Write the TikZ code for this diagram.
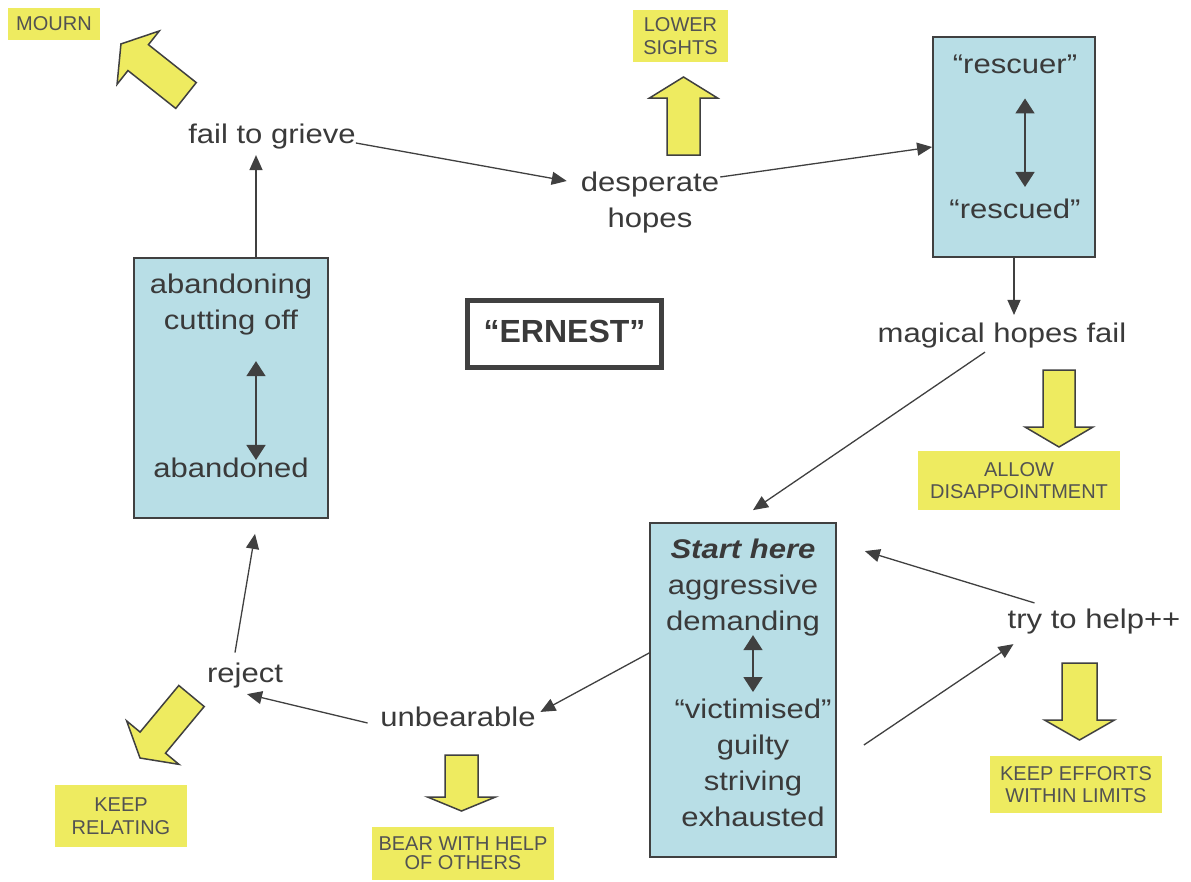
\documentclass[tikz,border=0pt]{standalone}
\usepackage{fontspec}
\setmainfont{Liberation Sans}
\newfontfamily\mainstretch{Liberation Sans}[FakeStretch=1.15]
\usetikzlibrary{arrows.meta,calc}
\definecolor{boxblue}{RGB}{184,222,230}
\definecolor{ylw}{RGB}{238,235,96}
\definecolor{txt}{RGB}{58,58,58}
\definecolor{lbltxt}{RGB}{82,82,82}
\definecolor{edge}{RGB}{64,64,64}
\tikzset{
  txtnode/.style={inner sep=0pt, text=txt, font=\mainstretch\fontsize{27}{36}\selectfont, align=center},
  bluebox/.style={draw=edge, line width=1.8pt, fill=boxblue, inner sep=0pt},
  ylabel/.style={fill=ylw, inner sep=0pt, text=lbltxt, font=\fontsize{20}{22.5}\selectfont, align=center},
  conn/.style={draw=edge, line width=1.3pt, -{Triangle[length=15pt,width=13pt]}},
  dbl/.style={draw=edge, line width=1.8pt, {Triangle[length=15pt,width=19pt]}-{Triangle[length=15pt,width=19pt]}},
  yarrow/.style={fill=ylw, draw=edge, line width=1.5pt, line join=miter},
}
\newcommand\blockarrow[6]{%
  \begin{scope}[shift={#1},rotate=#2]
    \draw[yarrow] (0,-#5) -- ({#3-#4},-#5) -- ({#3-#4},-#6) -- (#3,0) -- ({#3-#4},#6) -- ({#3-#4},#5) -- (0,#5) -- cycle;
  \end{scope}}
\begin{document}
\begin{tikzpicture}[x=1pt,y=-1pt]
\clip (0,0) rectangle (1191,881);
\fill[white] (0,0) rectangle (1191,881);

% blue boxes
\node[bluebox, minimum width=194pt, minimum height=260pt] (leftbox) at (231,388) {};
\node[bluebox, minimum width=162pt, minimum height=220pt] (rbox) at (1014,147) {};
\node[bluebox, minimum width=186pt, minimum height=334pt] (sbox) at (743,690) {};
\node[draw=edge, line width=5pt, minimum width=194pt, minimum height=67pt, inner sep=0pt,
      text height=23pt, text depth=7pt, text=txt, font=\bfseries\fontsize{32}{36}\selectfont] (ernest) at (564.5,334) {“ERNEST”};

% texts
\node[txtnode, anchor=base] (fail) at (272,143) {fail to grieve};
\node[txtnode, anchor=north] (desp) at (650,171.3) {desperate\\hopes};
\node[txtnode, anchor=base] (rescuer) at (1015,73) {“rescuer”};
\node[txtnode, anchor=base] (rescued) at (1015,218) {“rescued”};
\node[txtnode, anchor=base] (magic) at (1002,342) {magical hopes fail};
\node[txtnode, anchor=north] (aband) at (231,273.3) {abandoning\\cutting off};
\node[txtnode, anchor=base] (abandoned) at (231,477) {abandoned};
\node[txtnode, anchor=north] (starttop) at (743,538.3) {\textbf{\textit{Start here}}\\aggressive\\demanding};
\node[txtnode, anchor=north] (victim) at (753,698.3) {“victimised”\\guilty\\striving\\exhausted};
\node[txtnode, anchor=base] (try) at (1094,628) {try to help++};
\node[txtnode, anchor=base] (unb) at (458,726) {unbearable};
\node[txtnode, anchor=base] (reject) at (245,682) {reject};

% yellow labels
\node[ylabel, minimum width=92pt, minimum height=32pt] (mourn) at (54,24) {MOURN};
\node[ylabel, minimum width=95pt, minimum height=52pt] (lower) at (680.5,36) {LOWER\\SIGHTS};
\node[ylabel, minimum width=202pt, minimum height=59pt] (allow) at (1019,480.5) {ALLOW\\DISAPPOINTMENT};
\node[ylabel, minimum width=182pt, minimum height=53pt, font=\fontsize{20}{19}\selectfont] (bear) at (463,853.5) {BEAR WITH HELP\\OF OTHERS};
\node[ylabel, minimum width=132pt, minimum height=62pt] (keeprel) at (121,816) {KEEP\\RELATING};
\node[ylabel, minimum width=172pt, minimum height=57pt] (keepeff) at (1076,784.5) {KEEP EFFORTS\\WITHIN LIMITS};

% yellow block arrows
\blockarrow{(186,95.5)}{141.6}{83}{22}{16.5}{34}
\blockarrow{(683.5,155)}{90}{78}{21}{16.5}{34}
\blockarrow{(1059,370)}{-90}{77}{20}{16}{34}
\blockarrow{(461.5,755)}{-90}{56}{14}{16.5}{34}
\blockarrow{(1079.5,663)}{-90}{77}{20}{17.5}{35}
\blockarrow{(191.5,696)}{230.3}{80.6}{20}{16.5}{34}

% connectors
\draw[conn] (fail.base east) -- ($(desp.north west)+(-14,9.7)$);
\draw[conn] ($(desp.north east)+(1,5.7)$) -- (rbox.west);
\draw[conn] (rbox.south) -- ($(rbox.south |- magic.north)+(0,-7.3)$);
\draw[conn] ($(magic.south)+(-17,4.3)$) -- ($(sbox.north)+(10,-12)$);
\draw[conn] ($(try.north west)+(27,-5.3)$) -- ($(sbox.north east)+(28,29)$);
\draw[conn] ($(sbox.east)+(27,55)$) -- ($(try.south west)+(6,10.3)$);
\draw[conn] ($(sbox.west)+(0,-37)$) -- ($(unb.north east)+(4.5,5.7)$);
\draw[conn] ($(unb.base west)+(-12.5,-3)$) -- ($(reject.south)+(2,6.3)$);
\draw[conn] ($(reject.north)+(-10,-9.7)$) -- ($(leftbox.south)+(24,15)$);
\draw[conn] ($(leftbox.north)+(25,0)$) -- ($(fail.south)+(-16,6.3)$);

% double arrows inside boxes
\draw[dbl] ($(aband.south)+(25,26.3)$) -- ($(abandoned.north)+(25,2.7)$);
\draw[dbl] ($(rescuer.south)+(10,25)$) -- ($(rescued.north)+(10,-11.3)$);
\draw[dbl] ($(starttop.south)+(10,-0.7)$) -- ($(victim.north)+(0,-6.3)$);
\end{tikzpicture}
\end{document}
